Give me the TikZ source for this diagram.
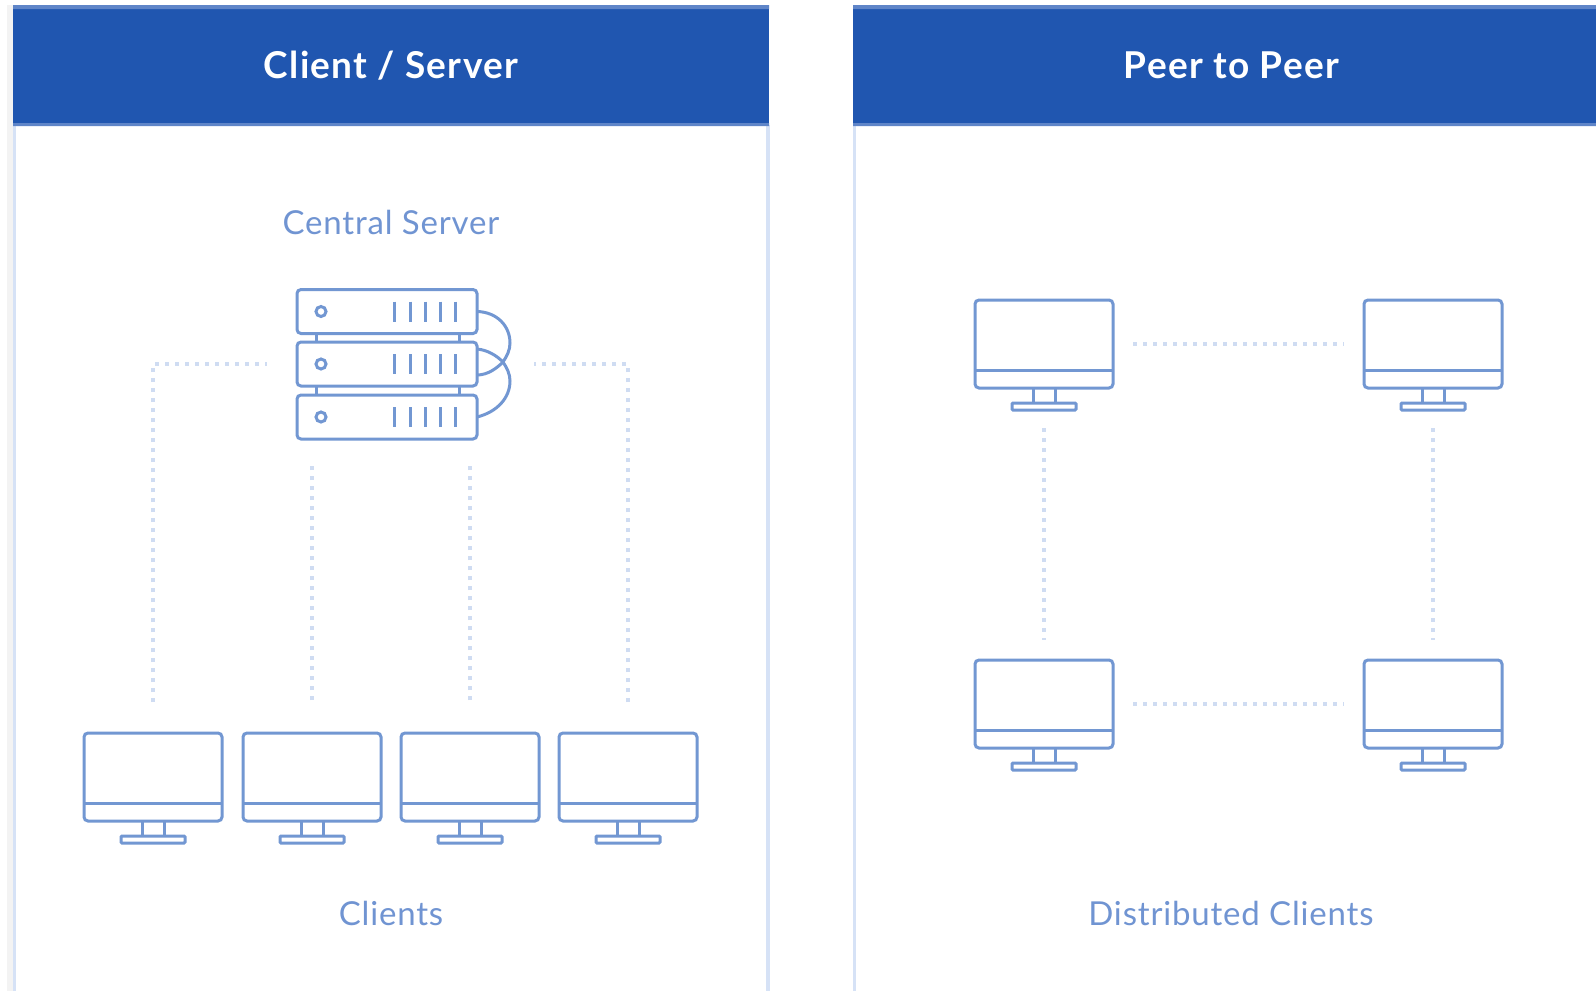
\documentclass[tikz,border=0pt]{standalone}
\usepackage{fontspec}
\setmainfont{Lato}
\newfontfamily\headfont[LetterSpace=3.5]{Lato}
\newfontfamily\labelfont[LetterSpace=2.5]{Lato}
\definecolor{hdr}{HTML}{2056B0}
\definecolor{hdredge}{HTML}{5F85C8}
\definecolor{stroke}{HTML}{7297D2}
\definecolor{lbl}{HTML}{7094D2}
\definecolor{dots}{HTML}{CFDCF2}
\definecolor{edge}{HTML}{D6E2F6}
\definecolor{sidegrey}{HTML}{F3F3F3}
\tikzset{
  x=1pt,y=-1pt,
  header/.style={draw=none,fill=hdr,minimum height=117pt,inner sep=0pt,outer sep=0pt,text=white,font=\fontsize{37}{42}\selectfont\headfont\bfseries},
  label/.style={text=lbl,inner sep=0pt,font=\fontsize{33}{38}\selectfont\labelfont},
  screen/.style={draw=stroke,line width=3pt,rounded corners=4pt,minimum width=138pt,minimum height=88pt,inner sep=0pt,outer sep=0pt,anchor=north},
  rack/.style={draw=stroke,line width=3pt,rounded corners=4pt,fill=white,minimum width=180pt,minimum height=44pt,inner sep=0pt,outer sep=0pt},
  part/.style={draw=stroke,line width=3pt},
  link/.style={draw=dots,line width=3.5pt,dash pattern=on 4pt off 6pt},
  monitor/.pic={
    \node[screen] (-screen) at (0,0) {};
    \draw[part] (-69,70) -- (69,70);
    \draw[part] (-11,88) -- (-11,103) (11,88) -- (11,103);
    \draw[part,rounded corners=1pt] (-32,103) rectangle (32,110);
  },
  lamps/.pic={
    \draw[part] (-66,0) circle (5);
    \foreach \bx in {7,23,38,53,68} \draw[part] (\bx,-10) -- (\bx,10);
  }
}
\begin{document}
\begin{tikzpicture}
\useasboundingbox (0,0) rectangle (1596,991);
\fill[white] (0,0) rectangle (1596,991);
% panels
\fill[sidegrey] (7,5) rectangle (13,991);
\fill[edge] (13,125) rectangle (16,991);
\fill[edge] (766,125) rectangle (769.5,991);
\fill[edge] (853,125) rectangle (856,991);
\node[header,minimum width=756pt,anchor=north west] (h1) at (13,7) {Client / Server};
\node[header,minimum width=757pt,anchor=north west] (h2) at (853,7) {Peer to Peer};
\fill[hdredge] (13,5) rectangle (769,9) (13,123) rectangle (769,126);
\fill[hdredge] (853,5) rectangle (1596,9) (853,123) rectangle (1596,126);
% labels
\node[label] (central) at (391,222) {Central Server};
\node[label] (clients) at (391,913) {Clients};
\node[label] (dist) at (1231,913) {Distributed Clients};
% servers
\node[rack] (s1) at (387,311.5) {};
\node[rack] (s2) at (387,364) {};
\node[rack] (s3) at (387,417) {};
\foreach \n in {1,2,3} \pic at (s\n.center) {lamps};
\draw[part] ([xshift=-71pt]s1.south) -- ([xshift=-71pt]s2.north) ([xshift=72pt]s1.south) -- ([xshift=72pt]s2.north);
\draw[part] ([xshift=-71pt]s2.south) -- ([xshift=-71pt]s3.north) ([xshift=72pt]s2.south) -- ([xshift=72pt]s3.north);
\coordinate (cross) at (503,362);
\draw[part] (s1.east) .. controls (497,312) and (510,326) .. (510,343) .. controls (510,350) and (507,356) .. (cross) .. controls (497,368) and (488,375) .. ([yshift=-11pt]s2.east);
\draw[part] (s3.east) .. controls (497,412) and (510,398) .. (510,381) .. controls (510,374) and (507,368) .. (cross) .. controls (497,356) and (488,350) .. ([yshift=15pt]s2.east);
% clients
\pic (m1) at (153,733) {monitor};
\pic (m2) at (312,733) {monitor};
\pic (m3) at (470,733) {monitor};
\pic (m4) at (628,733) {monitor};
% peers
\pic (p1) at (1044,300) {monitor};
\pic (p2) at (1433,300) {monitor};
\pic (p3) at (1044,660) {monitor};
\pic (p4) at (1433,660) {monitor};
% connectors
\coordinate (cl) at (267,364);
\coordinate (cr) at (534,364);
\coordinate (c2) at (312,466);
\coordinate (c3) at (470,466);
\draw[link,shorten <=31pt] (m1-screen.north) |- (cl);
\draw[link,shorten <=33pt] (m2-screen.north) -- (c2);
\draw[link,shorten <=33pt] (m3-screen.north) -- (c3);
\draw[link,shorten <=31pt] (m4-screen.north) |- (cr);
\draw[link,shorten <=20pt,shorten >=20pt] (p1-screen.east) -- (p2-screen.west);
\draw[link,shorten <=20pt,shorten >=20pt] (p3-screen.east) -- (p4-screen.west);
\draw[link,shorten <=40pt,shorten >=20pt] (p1-screen.south) -- (p3-screen.north);
\draw[link,shorten <=40pt,shorten >=20pt] (p2-screen.south) -- (p4-screen.north);
\end{tikzpicture}
\end{document}
